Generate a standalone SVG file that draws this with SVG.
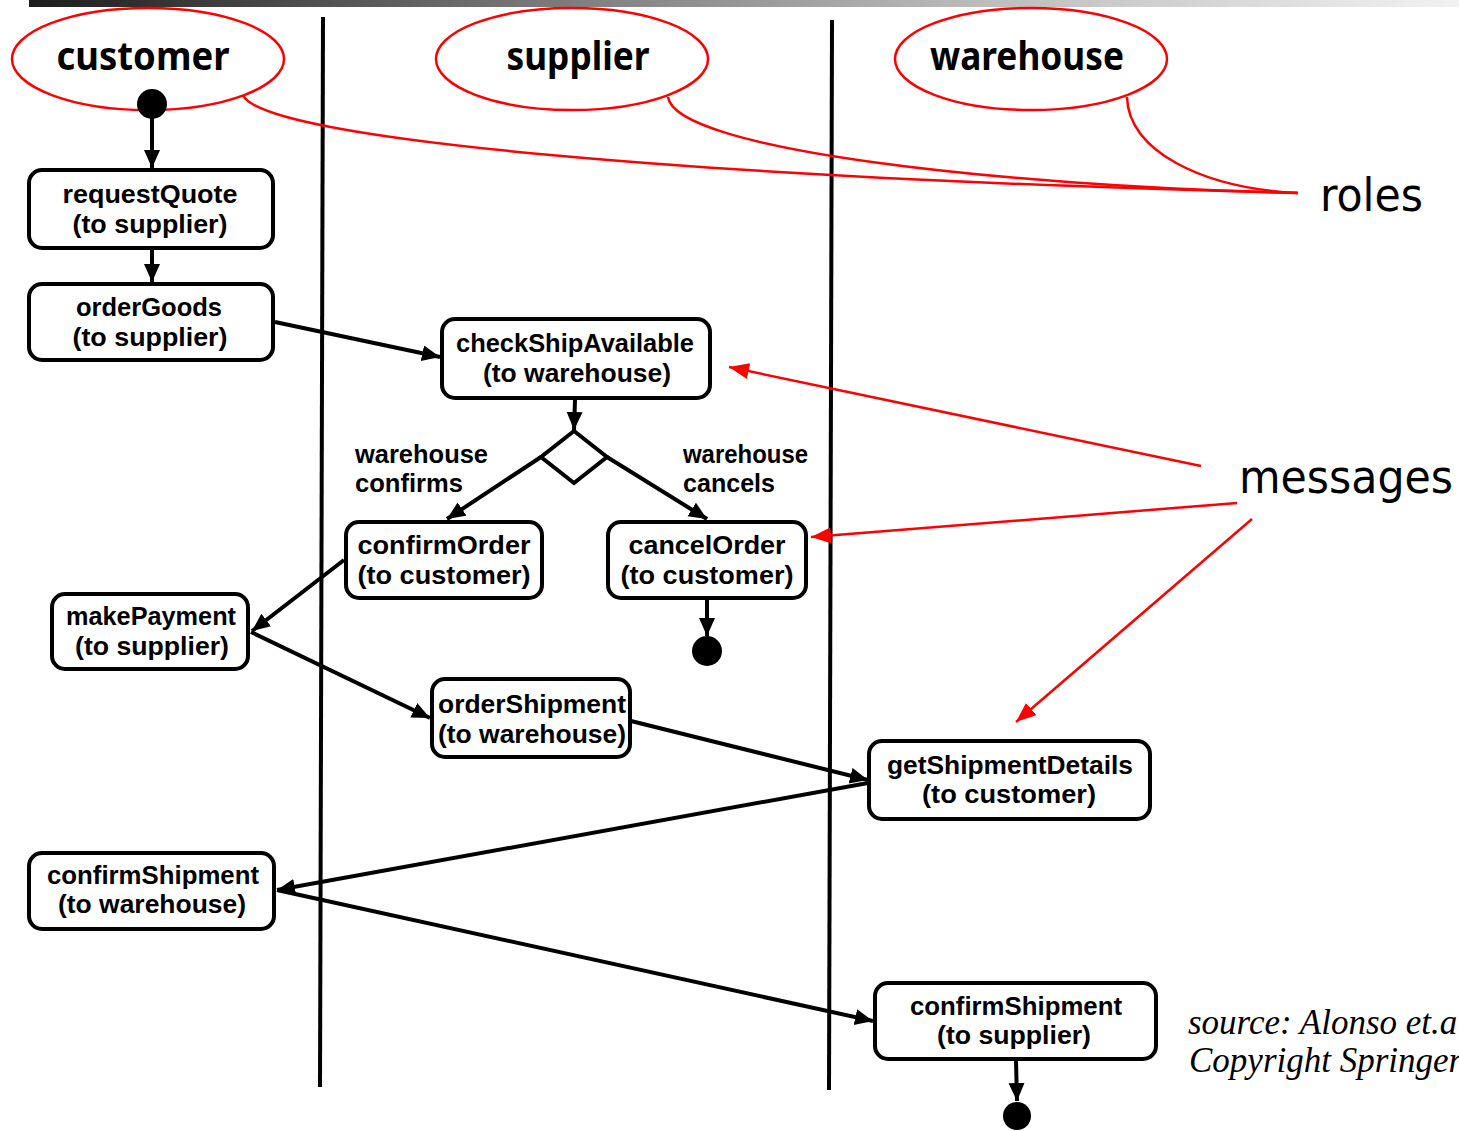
<svg xmlns="http://www.w3.org/2000/svg" width="1459" height="1131" viewBox="0 0 1459 1131">
<defs>
<linearGradient id="bar" x1="0" y1="0" x2="1" y2="0">
<stop offset="0" stop-color="#1c1c1c"/>
<stop offset="0.35" stop-color="#777"/>
<stop offset="0.65" stop-color="#b9b9b9"/>
<stop offset="1" stop-color="#f2f2f2"/>
</linearGradient>
<marker id="ab" markerUnits="userSpaceOnUse" markerWidth="20" markerHeight="18" refX="18" refY="8" orient="auto">
<path d="M0,0 L18,8 L0,16 Z" fill="#000"/>
</marker>
<marker id="ar" markerUnits="userSpaceOnUse" markerWidth="22" markerHeight="18" refX="20" refY="8" orient="auto">
<path d="M0,0 L20,8 L0,16 Z" fill="#f00"/>
</marker>
</defs>
<style>
.node rect{fill:#fff;stroke:#000;stroke-width:4}
.lbl{font-family:"Liberation Sans",Arial,sans-serif;font-weight:bold;font-size:25px;fill:#000}
.role ellipse{fill:none;stroke:#f00;stroke-width:2.5}
.rt{font-family:"Noto Sans","DejaVu Sans",sans-serif;font-weight:bold;font-size:40px;fill:#000}
.lane{stroke:#000;stroke-width:4}
.conn line,.conn path{stroke:#000;stroke-width:4;fill:none}
.red path,.red line{stroke:#f00;stroke-width:2.5;fill:none}
.big{font-family:"DejaVu Sans Condensed","DejaVu Sans",sans-serif;font-size:46px;fill:#000}
.src{font-family:"Liberation Serif",serif;font-style:italic;font-size:35px;fill:#000}
.dot{fill:#000}
</style>
<rect x="29" y="0" width="1430" height="7" fill="url(#bar)"/>

<g id="lanes">
<line class="lane" x1="323" y1="17" x2="320" y2="1087"/>
<line class="lane" x1="832" y1="20" x2="829" y2="1090"/>
</g>

<g id="role-customer" class="role">
<ellipse cx="148" cy="59" rx="136" ry="51"/>
<text class="rt" x="143" y="70" text-anchor="middle" textLength="173" lengthAdjust="spacingAndGlyphs">customer</text>
</g>
<g id="role-supplier" class="role">
<ellipse cx="572" cy="59" rx="136" ry="51"/>
<text class="rt" x="578" y="70" text-anchor="middle" textLength="143" lengthAdjust="spacingAndGlyphs">supplier</text>
</g>
<g id="role-warehouse" class="role">
<ellipse cx="1031" cy="59" rx="136" ry="51"/>
<text class="rt" x="1027" y="70" text-anchor="middle" textLength="194" lengthAdjust="spacingAndGlyphs">warehouse</text>
</g>

<g id="start"><circle class="dot" cx="152" cy="104" r="15"/></g>

<g id="requestQuote" class="node">
<rect x="29" y="170" width="244" height="78" rx="13"/>
<text class="lbl" x="150" y="203" text-anchor="middle" textLength="175" lengthAdjust="spacingAndGlyphs">requestQuote</text>
<text class="lbl" x="150" y="233" text-anchor="middle" textLength="155" lengthAdjust="spacingAndGlyphs">(to supplier)</text>
</g>
<g id="orderGoods" class="node">
<rect x="29" y="284" width="244" height="76" rx="13"/>
<text class="lbl" x="149" y="316" text-anchor="middle" textLength="146" lengthAdjust="spacingAndGlyphs">orderGoods</text>
<text class="lbl" x="150" y="346" text-anchor="middle" textLength="155" lengthAdjust="spacingAndGlyphs">(to supplier)</text>
</g>
<g id="checkShipAvailable" class="node">
<rect x="442" y="319" width="268" height="79" rx="13"/>
<text class="lbl" x="575" y="352" text-anchor="middle" textLength="238" lengthAdjust="spacingAndGlyphs">checkShipAvailable</text>
<text class="lbl" x="577" y="382" text-anchor="middle" textLength="188" lengthAdjust="spacingAndGlyphs">(to warehouse)</text>
</g>
<g id="decision">
<path d="M574,431 L541,457 L574,483 L607,457 Z" fill="#fff" stroke="#000" stroke-width="4"/>
</g>
<g id="label-confirms">
<text class="lbl" x="355" y="463" textLength="133" lengthAdjust="spacingAndGlyphs">warehouse</text>
<text class="lbl" x="355" y="492" textLength="108" lengthAdjust="spacingAndGlyphs">confirms</text>
</g>
<g id="label-cancels">
<text class="lbl" x="683" y="463" textLength="125" lengthAdjust="spacingAndGlyphs">warehouse</text>
<text class="lbl" x="683" y="492" textLength="92" lengthAdjust="spacingAndGlyphs">cancels</text>
</g>
<g id="confirmOrder" class="node">
<rect x="346" y="522" width="196" height="76" rx="13"/>
<text class="lbl" x="444" y="554" text-anchor="middle" textLength="173" lengthAdjust="spacingAndGlyphs">confirmOrder</text>
<text class="lbl" x="444" y="584" text-anchor="middle" textLength="173" lengthAdjust="spacingAndGlyphs">(to customer)</text>
</g>
<g id="cancelOrder" class="node">
<rect x="608" y="522" width="198" height="76" rx="13"/>
<text class="lbl" x="707" y="554" text-anchor="middle" textLength="157" lengthAdjust="spacingAndGlyphs">cancelOrder</text>
<text class="lbl" x="707" y="584" text-anchor="middle" textLength="173" lengthAdjust="spacingAndGlyphs">(to customer)</text>
</g>
<g id="end1"><circle class="dot" cx="707" cy="651" r="15"/></g>
<g id="makePayment" class="node">
<rect x="52" y="594" width="196" height="75" rx="13"/>
<text class="lbl" x="151" y="625" text-anchor="middle" textLength="170" lengthAdjust="spacingAndGlyphs">makePayment</text>
<text class="lbl" x="152" y="655" text-anchor="middle" textLength="154" lengthAdjust="spacingAndGlyphs">(to supplier)</text>
</g>
<g id="orderShipment" class="node">
<rect x="432" y="679" width="198" height="78" rx="13"/>
<text class="lbl" x="532" y="713" text-anchor="middle" textLength="188" lengthAdjust="spacingAndGlyphs">orderShipment</text>
<text class="lbl" x="532" y="743" text-anchor="middle" textLength="188" lengthAdjust="spacingAndGlyphs">(to warehouse)</text>
</g>
<g id="getShipmentDetails" class="node">
<rect x="869" y="741" width="281" height="78" rx="13"/>
<text class="lbl" x="1010" y="774" text-anchor="middle" textLength="246" lengthAdjust="spacingAndGlyphs">getShipmentDetails</text>
<text class="lbl" x="1009" y="803" text-anchor="middle" textLength="174" lengthAdjust="spacingAndGlyphs">(to customer)</text>
</g>
<g id="confirmShipment-warehouse" class="node">
<rect x="29" y="853" width="245" height="76" rx="13"/>
<text class="lbl" x="153" y="884" text-anchor="middle" textLength="212" lengthAdjust="spacingAndGlyphs">confirmShipment</text>
<text class="lbl" x="152" y="913" text-anchor="middle" textLength="188" lengthAdjust="spacingAndGlyphs">(to warehouse)</text>
</g>
<g id="confirmShipment-supplier" class="node">
<rect x="875" y="983" width="281" height="76" rx="13"/>
<text class="lbl" x="1016" y="1015" text-anchor="middle" textLength="212" lengthAdjust="spacingAndGlyphs">confirmShipment</text>
<text class="lbl" x="1014" y="1044" text-anchor="middle" textLength="154" lengthAdjust="spacingAndGlyphs">(to supplier)</text>
</g>
<g id="end2"><circle class="dot" cx="1017" cy="1116" r="14"/></g>

<g id="connectors" class="conn">
<line x1="152" y1="118" x2="152" y2="168" marker-end="url(#ab)"/>
<line x1="152" y1="250" x2="152" y2="282" marker-end="url(#ab)"/>
<line x1="275" y1="322" x2="440" y2="357" marker-end="url(#ab)"/>
<line x1="575" y1="400" x2="574" y2="430" marker-end="url(#ab)"/>
<line x1="541" y1="457" x2="447" y2="519" marker-end="url(#ab)"/>
<line x1="607" y1="457" x2="707" y2="519" marker-end="url(#ab)"/>
<line x1="707" y1="600" x2="707" y2="636" marker-end="url(#ab)"/>
<line x1="344" y1="560" x2="252" y2="631" marker-end="url(#ab)"/>
<line x1="251" y1="632" x2="430" y2="718" marker-end="url(#ab)"/>
<line x1="631" y1="721" x2="868" y2="780" marker-end="url(#ab)"/>
<line x1="868" y1="783" x2="277" y2="890" marker-end="url(#ab)"/>
<line x1="277" y1="890" x2="873" y2="1021" marker-end="url(#ab)"/>
<line x1="1016" y1="1061" x2="1017" y2="1101" marker-end="url(#ab)"/>
</g>

<g id="annotations" class="red">
<path d="M243,95 C262,140 700,178 1298,193"/>
<path d="M668,97 C675,150 1000,186 1298,193"/>
<path d="M1127,97 C1128,150 1200,188 1298,193"/>
<line x1="1201" y1="466" x2="729" y2="367" marker-end="url(#ar)"/>
<line x1="1237" y1="503" x2="811" y2="537" marker-end="url(#ar)"/>
<line x1="1252" y1="519" x2="1016" y2="722" marker-end="url(#ar)"/>
</g>
<g id="label-roles"><text class="big" x="1320" y="211" textLength="103" lengthAdjust="spacingAndGlyphs">roles</text></g>
<g id="label-messages"><text class="big" x="1239" y="493" textLength="214" lengthAdjust="spacingAndGlyphs">messages</text></g>
<g id="source">
<text class="src" x="1188" y="1034">source: Alonso et.al</text>
<text class="src" x="1189" y="1072">Copyright Springer</text>
</g>
</svg>
